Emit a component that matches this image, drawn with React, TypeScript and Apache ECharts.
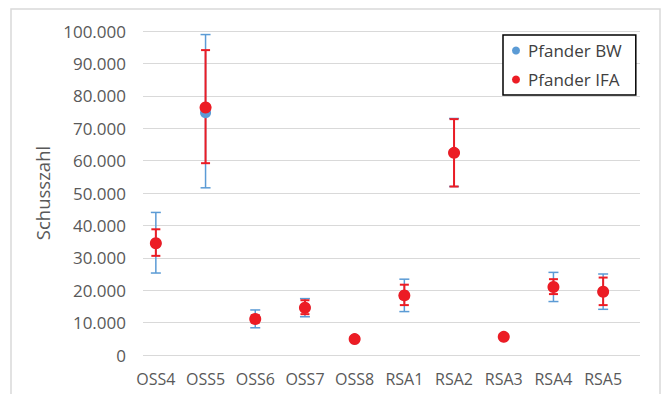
import React, { useEffect, useRef } from "react";
import * as echarts from "echarts";

const categories = ["OSS4", "OSS5", "OSS6", "OSS7", "OSS8", "RSA1", "RSA2", "RSA3", "RSA4", "RSA5"];
const bwMean = [34500, 74800, 11100, 14600, 4900, 18400, 62400, 5600, 21000, 19500];
const bwLow = [25300, 51600, 8400, 11800, 4900, 13400, 52000, 5600, 16500, 14100];
const bwHigh = [44000, 98900, 13900, 17400, 4900, 23400, 73000, 5600, 25500, 25000];
const ifaMean = [34500, 76400, 11100, 14600, 4900, 18400, 62400, 5600, 21000, 19500];
const ifaLow = [30600, 59200, 10000, 12600, 4900, 15400, 52000, 5600, 18800, 15400];
const ifaHigh = [38800, 94100, 12300, 16900, 4900, 21700, 72800, 5600, 23400, 23900];
const yTicks = { min: 0, max: 100000, interval: 10000 };

const BLUE = "#5b9bd5";
const RED = "#ec1c24";
const FONT = "Open Sans";

function fmt(v: number): string {
  return String(Math.round(v)).replace(/\B(?=(\d{3})+(?!\d))/g, ".");
}

function errSeries(name: string, low: number[], high: number[], color: string, width: number, cap: number) {
  return {
    type: "custom",
    name,
    xAxisIndex: 1,
    yAxisIndex: 1,
    z: 2,
    data: categories.map((_, i) => [i, low[i], high[i]]),
    renderItem: (params: any, api: any) => {
      const x = api.value(0);
      const lo = api.coord([x, api.value(1)]);
      const hi = api.coord([x, api.value(2)]);
      if (Math.abs(lo[1] - hi[1]) < 0.5) return { type: "group", children: [] };
      const style = { stroke: color, lineWidth: width };
      return {
        type: "group",
        children: [
          { type: "line", shape: { x1: lo[0], y1: lo[1], x2: hi[0], y2: hi[1] }, style },
          { type: "line", shape: { x1: lo[0] - cap, y1: lo[1], x2: lo[0] + cap, y2: lo[1] }, style },
          { type: "line", shape: { x1: hi[0] - cap, y1: hi[1], x2: hi[0] + cap, y2: hi[1] }, style },
        ],
      };
    },
  };
}

export default function App() {
  const ref = useRef<HTMLDivElement>(null);
  useEffect(() => {
    if (!ref.current) return;
    const chart = echarts.init(ref.current, null, { renderer: "svg" });
    chart.setOption({
      animation: false,
      backgroundColor: "#ffffff",
      textStyle: { fontFamily: FONT },
      graphic: [
        {
          type: "rect",
          shape: { x: 11, y: 9, width: 649, height: 400 },
          style: { fill: "none", stroke: "#d9d9d9", lineWidth: 1.5 },
          silent: true,
        },
      ],
      grid: [
        { left: 143, right: 25, top: 31, bottom: 39 },
        { left: 131, right: 37, top: 31, bottom: 39 },
      ],
      legend: {
        orient: "vertical",
        left: 503,
        top: 35,
        padding: [7, 14, 7, 9],
        itemGap: 12,
        itemWidth: 14,
        itemHeight: 8,
        borderColor: "#000000",
        borderWidth: 1.5,
        backgroundColor: "#ffffff",
        textStyle: { fontFamily: FONT, fontSize: 17, color: "#404040" },
        data: [
          { name: "Pfander BW", icon: "circle" },
          { name: "Pfander IFA", icon: "circle" },
        ],
      },
      xAxis: [
        {
          type: "category",
          gridIndex: 0,
          data: categories,
          show: false,
        },
        {
          type: "category",
          gridIndex: 1,
          data: categories,
          axisLine: { show: false },
          axisTick: { show: false },
          axisLabel: { interval: 0, fontFamily: FONT, fontSize: 16, color: "#595959", margin: 16 },
        },
      ],
      yAxis: [
        {
          type: "value",
          gridIndex: 0,
          min: yTicks.min,
          max: yTicks.max,
          interval: yTicks.interval,
          name: "Schusszahl",
          nameLocation: "middle",
          nameGap: 86,
          nameTextStyle: { fontFamily: FONT, fontSize: 18.5, color: "#595959" },
          axisLine: { show: false },
          axisTick: { show: false },
          splitLine: { lineStyle: { color: "#d9d9d9", width: 1.2 } },
          axisLabel: {
            fontFamily: FONT,
            fontSize: 17,
            color: "#595959",
            margin: 17,
            formatter: (v: number) => fmt(v),
          },
        },
        {
          type: "value",
          gridIndex: 1,
          min: yTicks.min,
          max: yTicks.max,
          interval: yTicks.interval,
          show: false,
          splitLine: { show: false },
        },
      ],
      series: [
        errSeries("BW err", bwLow, bwHigh, BLUE, 1.5, 5),
        {
          type: "scatter",
          name: "Pfander BW",
          xAxisIndex: 1,
          yAxisIndex: 1,
          z: 3,
          symbol: "circle",
          symbolSize: 11,
          itemStyle: { color: BLUE, opacity: 1 },
          data: bwMean.map((v, i) => [i, v]),
        },
        errSeries("IFA err", ifaLow, ifaHigh, RED, 2, 4.5),
        {
          type: "scatter",
          name: "Pfander IFA",
          xAxisIndex: 1,
          yAxisIndex: 1,
          z: 5,
          symbol: "circle",
          symbolSize: 12,
          itemStyle: { color: RED, opacity: 1 },
          data: ifaMean.map((v, i) => [i, v]),
        },
      ],
    });
    return () => chart.dispose();
  }, []);
  return (
    <div
      ref={ref}
      style={{ position: "fixed", left: 0, top: 0, width: 665, height: 394 }}
    />
  );
}
